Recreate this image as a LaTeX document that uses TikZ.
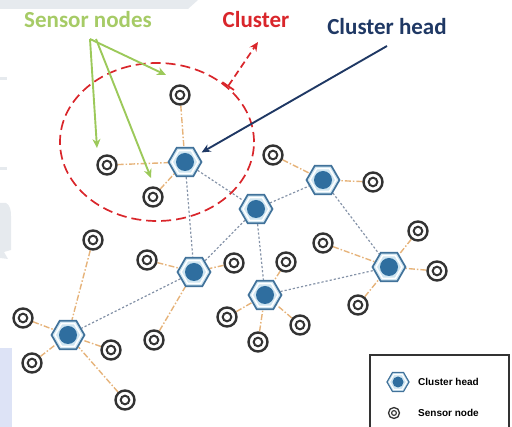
\documentclass[tikz,border=0pt]{standalone}
\usepackage{fontspec}
\setmainfont{Carlito}
\newfontfamily\legendfont{Liberation Sans}
\usepackage{tikz}
\usetikzlibrary{arrows.meta, positioning, shapes.geometric, backgrounds}
\definecolor{sensorgreen}{HTML}{9CC95A}
\definecolor{sensortext}{HTML}{A6CB66}
\definecolor{clusterred}{HTML}{D9262B}
\definecolor{headnavy}{HTML}{1F3864}
\definecolor{sensorgray}{HTML}{333333}
\definecolor{headedge}{HTML}{41729A}
\definecolor{headfill}{HTML}{CFE5F1}
\definecolor{headblue}{HTML}{2F6E9F}
\definecolor{linkorange}{HTML}{E6B37A}
\definecolor{backgray}{HTML}{8593A8}
\definecolor{markgray}{HTML}{E6EAEE}
\definecolor{marklilac}{HTML}{DDE3F6}

\begin{document}
\begin{tikzpicture}[x=1pt, y=-1pt,
    % Sensor node: dark double ring on white.
    sensor/.style={circle, draw=sensorgray, line width=2.4pt, fill=white,
                   minimum size=19pt, inner sep=0pt,
                   path picture={\draw[sensorgray, line width=2pt]
                       (path picture bounding box.center) circle (4.3pt);}},
    % Cluster head: light hexagon, white inner rim, dark blue core.
    head/.style={regular polygon, regular polygon sides=6, draw=headedge,
                 line width=1.7pt, fill=headfill, minimum size=33pt, inner sep=0pt,
                 path picture={
                     \draw[white, line width=1.5pt] (path picture bounding box.center)
                         ++(0:13pt) -- ++(120:13pt) -- ++(180:13pt) -- ++(240:13pt)
                         -- ++(300:13pt) -- ++(0:13pt) -- cycle;
                     \fill[headblue] (path picture bounding box.center) circle (9pt);}},
    % Smaller copies for the legend box.
    sensorkey/.style={sensor, minimum size=11pt, line width=1.3pt,
                      path picture={\draw[sensorgray, line width=1.1pt]
                          (path picture bounding box.center) circle (2.4pt);}},
    headkey/.style={head, minimum size=22pt, line width=1.2pt,
                    path picture={
                        \draw[white, line width=1pt] (path picture bounding box.center)
                            ++(0:8.5pt) -- ++(120:8.5pt) -- ++(180:8.5pt) -- ++(240:8.5pt)
                            -- ++(300:8.5pt) -- ++(0:8.5pt) -- cycle;
                        \fill[headblue] (path picture bounding box.center) circle (5.5pt);}},
    % Links: sensor to head (orange), head to head (grey).
    link/.style={dash pattern=on 6pt off 2pt on 1.5pt off 2pt,
                 color=linkorange, line width=1.4pt},
    backbone/.style={dash pattern=on 2.2pt off 2pt, color=backgray, line width=1.2pt},
    % Callout arrows and their labels.
    callout/.style={font=\fontsize{23}{26}\selectfont\bfseries},
    pointer/.style={-{Stealth[length=9pt, width=8pt]}, line width=1.9pt},
    keytext/.style={font=\legendfont\fontsize{10}{12}\selectfont\bfseries,
                    anchor=west, inner sep=0pt}
]
    \useasboundingbox (0,0) rectangle (512,427);

    % === Faint backdrop marks ===
    \fill[markgray] (0,0) -- (198,0) -- (188,9) -- (0,9) -- cycle;
    \fill[markgray] (0,77) rectangle (7,80);
    \fill[markgray] (0,167) rectangle (7,170);
    \fill[markgray] (0,203) -- (6,203) .. controls (10,205) and (11,210) .. (11,216)
        -- (11,250) -- (4,252) -- (8,259) -- (0,258) -- cycle;
    \fill[marklilac] (0,348) rectangle (12,427);

    % === Cluster heads ===
    \node[head] (ch1) at (185,162) {};
    \node[head] (ch2) at (323,180) {};
    \node[head] (ch3) at (256,209) {};
    \node[head] (ch4) at (194,272) {};
    \node[head] (ch5) at (265,295) {};
    \node[head] (ch6) at (389,267) {};
    \node[head] (ch7) at (68,335)  {};

    % === Sensor nodes ===
    \node[sensor] (sn1)  at (180,95)  {};
    \node[sensor] (sn2)  at (107,165) {};
    \node[sensor] (sn3)  at (153,197) {};
    \node[sensor] (sn4)  at (273,155) {};
    \node[sensor] (sn5)  at (373,182) {};
    \node[sensor] (sn6)  at (93,240)  {};
    \node[sensor] (sn7)  at (147,260) {};
    \node[sensor] (sn8)  at (234,263) {};
    \node[sensor] (sn9)  at (286,262) {};
    \node[sensor] (sn10) at (323,243) {};
    \node[sensor] (sn11) at (418,231) {};
    \node[sensor] (sn12) at (437,271) {};
    \node[sensor] (sn13) at (358,305) {};
    \node[sensor] (sn14) at (227,317) {};
    \node[sensor] (sn15) at (300,325) {};
    \node[sensor] (sn16) at (258,342) {};
    \node[sensor] (sn17) at (154,340) {};
    \node[sensor] (sn18) at (23,318)  {};
    \node[sensor] (sn19) at (32,363)  {};
    \node[sensor] (sn20) at (111,350) {};
    \node[sensor] (sn21) at (125,400) {};

    % === Links, kept under the nodes ===
    \begin{scope}[on background layer]
        % head to head
        \draw[backbone] (ch1) -- (ch4);
        \draw[backbone] (ch1) -- (ch3);
        \draw[backbone] (ch3) -- (ch2);
        \draw[backbone] (ch3) -- (ch4);
        \draw[backbone] (ch3) -- (ch5);
        \draw[backbone] (ch2) -- (ch6);
        \draw[backbone] (ch5) -- (ch6);
        \draw[backbone] (ch4) -- (ch7);
        % sensor to head
        \foreach \s in {sn1, sn2, sn3} \draw[link] (\s) -- (ch1);
        \foreach \s in {sn4, sn5} \draw[link] (\s) -- (ch2);
        \foreach \s in {sn7, sn8, sn17} \draw[link] (\s) -- (ch4);
        \foreach \s in {sn9, sn14, sn15, sn16} \draw[link] (\s) -- (ch5);
        \foreach \s in {sn10, sn11, sn12, sn13} \draw[link] (\s) -- (ch6);
        \foreach \s in {sn6, sn18, sn19, sn20, sn21} \draw[link] (\s) -- (ch7);
    \end{scope}

    % === Cluster outline ===
    \node[ellipse, draw=clusterred, line width=1.7pt,
          dash pattern=on 10pt off 5pt,
          minimum width=194pt, minimum height=158pt] (cluster) at (157,142) {};

    % === Callouts ===
    \node[callout, text=sensortext] (sensorlbl) at (88,20) {Sensor nodes};
    \node[callout, text=clusterred] (clusterlbl) at (256,20) {Cluster};
    \node[callout, text=headnavy]   (headlbl)   at (387,27) {Cluster head};

    \coordinate (forkA) at (90,39);
    \coordinate (forkB) at (96,39);
    \coordinate (tipA)  at (166,75);
    \coordinate (tipB)  at (97,148);
    \coordinate (tipC)  at (151,178);
    \draw[pointer, sensorgreen] (forkA) -- (tipA);
    \draw[pointer, sensorgreen] (forkA) -- (tipB);
    \draw[pointer, sensorgreen] (forkB) -- (tipC);

    \coordinate (clustertip) at (258,42);
    \draw[{Bar[width=14pt, line width=1.7pt]}-{Stealth[length=9pt, width=8pt]},
          clusterred, line width=1.7pt, dash pattern=on 7pt off 4pt]
        (cluster.38) -- (clustertip);

    \coordinate (headtail) at (387,46);
    \draw[pointer, headnavy, shorten >=4pt] (headtail) -- (ch1);

    % === Legend ===
    \draw[sensorgray, line width=1.4pt] (370,430) -- (370,355) -- (509,355) -- (509,430);
    \node[headkey]   (keyhead)   at (398,382) {};
    \node[sensorkey] (keysensor) at (394,413) {};
    \node[keytext] at (418,382) {Cluster head};
    \node[keytext] at (418,413) {Sensor node};

\end{tikzpicture}
\end{document}
